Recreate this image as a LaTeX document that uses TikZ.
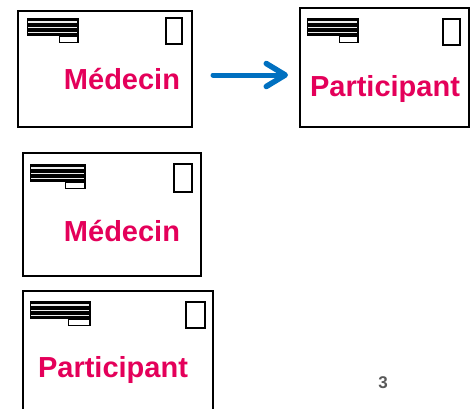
\documentclass[tikz,border=0pt]{standalone}
\usepackage{fontspec}
\setmainfont{Liberation Sans}
\usetikzlibrary{arrows.meta,positioning}
\definecolor{rose}{RGB}{228,0,90}
\definecolor{bleu}{RGB}{0,112,192}
\definecolor{gris}{RGB}{89,89,89}
\tikzset{
    enveloppe/.style={
    rectangle,draw=black,fill=white,line width=2pt,inner sep=0pt
    },
    timbre/.style={
    rectangle,draw=black,fill=white,line width=1.5pt,inner sep=0pt
    },
    bloc/.style={
    rectangle,draw=black,fill=black,line width=1pt,minimum height=17pt,inner sep=0pt
    },
    onglet/.style={
    rectangle,draw=black,fill=white,line width=1.2pt,minimum height=5.5pt,inner sep=0pt
    },
    nom/.style={
    text=rose,font=\bfseries\fontsize{29}{34}\selectfont,inner sep=0pt,anchor=base
    },
    numero/.style={
    text=gris,font=\bfseries\fontsize{17}{20}\selectfont,inner sep=0pt
    },
    fleche/.style={
    draw=bleu,line width=5pt,line cap=round,-{Straight Barb[length=19pt,width=23pt,line width=5.5pt,line cap=round,line join=round]}
    },
}
% bloc d'adresse : nom, x, y, largeur
\newcommand{\adresse}[4]{%
  \node[bloc,minimum width=#4pt] (#1) at (#2,#3) {};
  \foreach \d in {-5.8,-0.3,5}
    \draw[white!85!gray,line width=1.3pt,shorten <=1.5pt,shorten >=1.5pt] ([yshift=\d pt]#1.west) -- ([yshift=\d pt]#1.east);
  \node[onglet,minimum width=0.36*#4pt,anchor=north east] (#1-o) at (#1.south east) {};
}

\begin{document}
\begin{tikzpicture}[x=1pt,y=-1pt]
  \useasboundingbox (0,0) rectangle (470,408);
  \clip (0,0) rectangle (470,408);

  % en haut a gauche
  \node[enveloppe,minimum width=174pt,minimum height=116pt] (env1) at (105,69) {};
  \adresse{a1}{52.5}{27}{51}
  \node[timbre,minimum width=16pt,minimum height=26pt] (t1) at (174,31) {};
  \node[nom] (n1) at (122,89) {Médecin};

  % en haut a droite
  \node[enveloppe,minimum width=169pt,minimum height=119pt] (env2) at (384.5,67.5) {};
  \adresse{a2}{332.5}{27}{51}
  \node[timbre,minimum width=17pt,minimum height=26pt] (t2) at (451.5,32) {};
  \node[nom] (n2) at (385,96) {Participant};

  \draw[fleche,shorten <=20pt,shorten >=11pt] ([yshift=-6pt]env1.east) -- ([yshift=-7.5pt]env2.west);

  % milieu
  \node[enveloppe,minimum width=178pt,minimum height=123pt] (env3) at (112,214.5) {};
  \adresse{a3}{57.5}{173}{55}
  \node[timbre,minimum width=18pt,minimum height=28pt] (t3) at (183,178) {};
  \node[nom] (n3) at (122,241) {Médecin};

  % en bas
  \node[enveloppe,minimum width=190pt,minimum height=129pt] (env4) at (118,355.5) {};
  \adresse{a4}{60}{310}{60}
  \node[timbre,minimum width=19pt,minimum height=26pt] (t4) at (195.5,315) {};
  \node[nom] (n4) at (113,377) {Participant};

  \node[numero] (page) at (383,383) {3};
\end{tikzpicture}
\end{document}
